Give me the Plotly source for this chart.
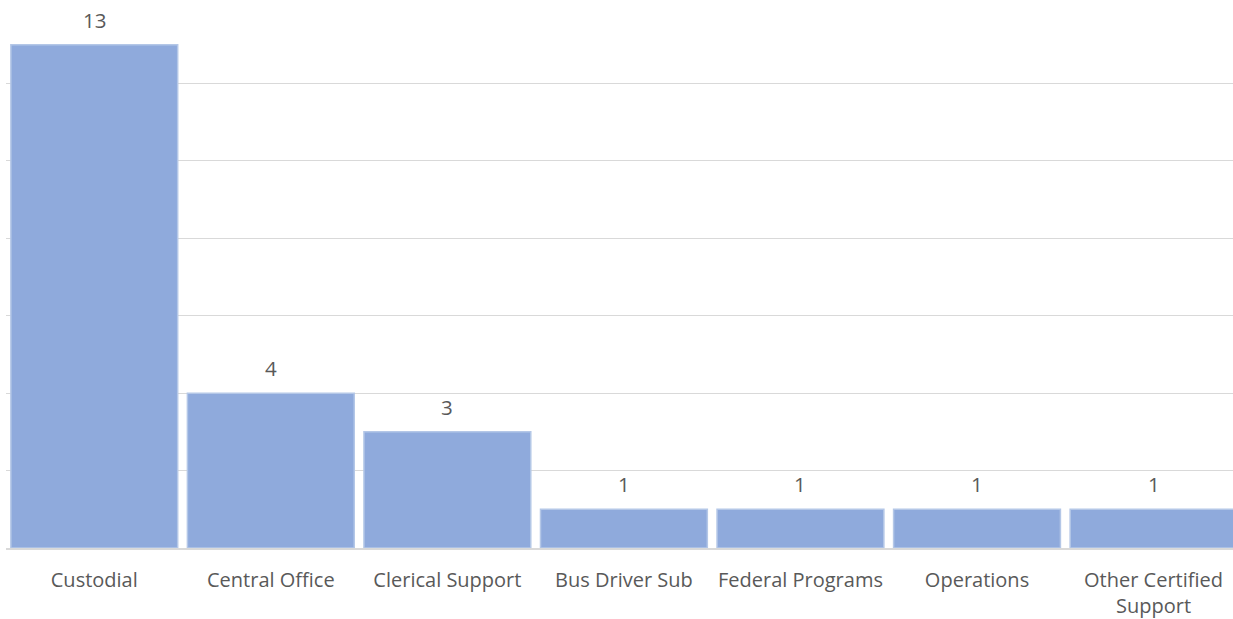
import plotly.graph_objects as go

categories = ["Custodial", "Central Office", "Clerical Support", "Bus Driver Sub",
              "Federal Programs", "Operations", "Other Certified<br>Support"]
values = [13, 4, 3, 1, 1, 1, 1]

FONT = "Open Sans"
TXT = "#595959"

fig = go.Figure()
fig.add_trace(go.Bar(
    x=list(range(len(categories))), y=values,
    marker=dict(color="#8FAADC", line=dict(color="#B4C7E7", width=1.5)),
    hoverinfo="skip",
))

for i, v in enumerate(values):
    fig.add_annotation(x=i, y=v, text=str(v), showarrow=False, yanchor="middle",
                       yshift=25, font=dict(family=FONT, size=20.5, color=TXT))

fig.update_layout(
    width=1233, height=619,
    margin=dict(l=6, r=0, t=6, b=71),
    paper_bgcolor="white", plot_bgcolor="white",
    bargap=0.055, showlegend=False,
    font=dict(family=FONT, size=20, color=TXT),
)
fig.update_xaxes(
    range=[-0.5, 6.45], tickmode="array", tickvals=list(range(len(categories))),
    ticktext=categories, ticks="outside", ticklen=13, tickcolor="rgba(0,0,0,0)",
    showline=True, linecolor="#D9D9D9", linewidth=2, showgrid=False,
    tickfont=dict(family=FONT, size=20, color=TXT), automargin=False,
)
fig.update_yaxes(
    range=[0, 14], dtick=2, showticklabels=False, showgrid=True,
    gridcolor="#D9D9D9", gridwidth=1, zeroline=False, automargin=False,
)

fig.write_html("out.html", config={"displayModeBar": False},
               post_script="document.body.style.margin='0';document.body.style.overflow='hidden';")
